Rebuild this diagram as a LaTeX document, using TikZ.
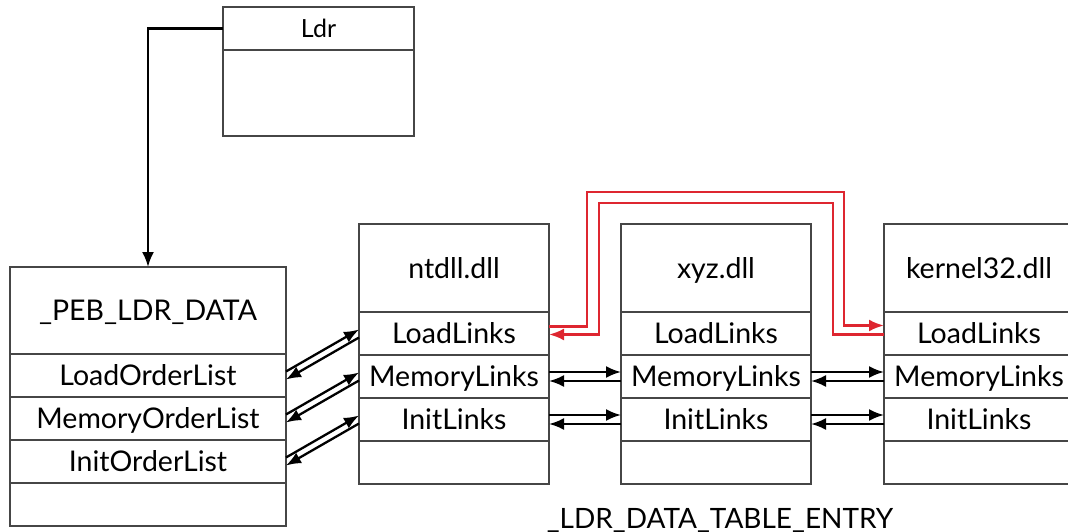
\documentclass[tikz,border=0pt]{standalone}
\usepackage{fontspec}
\setmainfont{Lato}
\usetikzlibrary{arrows.meta}
\usetikzlibrary{positioning}
\definecolor{linkred}{RGB}{222,38,48}
\definecolor{boxgray}{RGB}{70,70,70}

\begin{document}
\begin{tikzpicture}[x=1pt,y=1pt,
        cell/.style={draw=boxgray,line width=1.7pt,inner sep=0pt,outer sep=0pt,
            minimum width=190pt,minimum height=43pt,text height=20.4pt,text depth=0pt,
            font=\fontsize{28.5}{32}\selectfont},
        head/.style={cell,minimum height=88pt},
        pebcell/.style={cell,minimum width=276pt},
        link/.style={-{Latex[length=15pt,width=12pt]},line width=2.3pt},
        redlink/.style={link,linkred,line width=2.6pt}]
                \clip (0,0) rectangle (1068,531);

                \node[cell,minimum width=191pt,text height=18pt,font=\fontsize{25}{29}\selectfont] (ldrHead) at (318.5,502.5) {Ldr};
                \node[cell,minimum width=191pt,minimum height=86pt,below=0pt of ldrHead] (ldrBody) {};

                \node[pebcell,minimum height=87pt] (pebHead) at (148,220.5) {\_PEB\_LDR\_DATA};
                \node[pebcell,below=0pt of pebHead] (pebLoad) {LoadOrderList};
                \node[pebcell,below=0pt of pebLoad] (pebMem) {MemoryOrderList};
                \node[pebcell,below=0pt of pebMem] (pebInit) {InitOrderList};
                \node[pebcell,below=0pt of pebInit] (pebEnd) {};

                \node[head] (ntHead) at (454,263) {ntdll.dll};
                \node[cell,below=0pt of ntHead] (ntLoad) {LoadLinks};
                \node[cell,below=0pt of ntLoad] (ntMem) {MemoryLinks};
                \node[cell,below=0pt of ntMem] (ntInit) {InitLinks};
                \node[cell,below=0pt of ntInit] (ntEnd) {};

                \node[head] (xyzHead) at (716,263) {xyz.dll};
                \node[cell,below=0pt of xyzHead] (xyzLoad) {LoadLinks};
                \node[cell,below=0pt of xyzLoad] (xyzMem) {MemoryLinks};
                \node[cell,below=0pt of xyzMem] (xyzInit) {InitLinks};
                \node[cell,below=0pt of xyzInit] (xyzEnd) {};

                \node[head] (kHead) at (979,263) {kernel32.dll};
                \node[cell,below=0pt of kHead] (kLoad) {LoadLinks};
                \node[cell,below=0pt of kLoad] (kMem) {MemoryLinks};
                \node[cell,below=0pt of kMem] (kInit) {InitLinks};
                \node[cell,below=0pt of kInit] (kEnd) {};

                \node[anchor=base,font=\fontsize{28}{32}\selectfont] (entryName) at (720,2.5) {\_LDR\_DATA\_TABLE\_ENTRY};

                \draw[link] (ldrHead.west) -| (pebHead.north);

                \draw[link] ([yshift=4pt]pebLoad.east) -- ([yshift=4pt]ntLoad.west);
                \draw[link] ([yshift=-4pt]ntLoad.west) -- ([yshift=-4pt]pebLoad.east);
                \draw[link] ([yshift=4pt]pebMem.east) -- ([yshift=4pt]ntMem.west);
                \draw[link] ([yshift=-4pt]ntMem.west) -- ([yshift=-4pt]pebMem.east);
                \draw[link] ([yshift=4pt]pebInit.east) -- ([yshift=4pt]ntInit.west);
                \draw[link] ([yshift=-4pt]ntInit.west) -- ([yshift=-4pt]pebInit.east);

                \draw[link] ([yshift=4.5pt]ntMem.east) -- ([yshift=4.5pt]xyzMem.west);
                \draw[link] ([yshift=-4.5pt]xyzMem.west) -- ([yshift=-4.5pt]ntMem.east);
                \draw[link] ([yshift=4.5pt]ntInit.east) -- ([yshift=4.5pt]xyzInit.west);
                \draw[link] ([yshift=-4.5pt]xyzInit.west) -- ([yshift=-4.5pt]ntInit.east);

                \draw[link] ([yshift=4.5pt]xyzMem.east) -- ([yshift=4.5pt]kMem.west);
                \draw[link] ([yshift=-4.5pt]kMem.west) -- ([yshift=-4.5pt]xyzMem.east);
                \draw[link] ([yshift=4.5pt]xyzInit.east) -- ([yshift=4.5pt]kInit.west);
                \draw[link] ([yshift=-4.5pt]kInit.west) -- ([yshift=-4.5pt]xyzInit.east);

                % LoadLinks of ntdll and kernel32 run over xyz.dll
                \draw[redlink] ([yshift=7pt]ntLoad.east) -- ++(38,0) -- ++(0,134.5)
                    -| ([xshift=-40pt,yshift=8pt]kLoad.west) -- ([yshift=8pt]kLoad.west);
                \draw[redlink] ([yshift=-1pt]kLoad.west) -- ++(-51,0) -- ++(0,131.5)
                    -| ([xshift=50pt,yshift=-1pt]ntLoad.east) -- ([yshift=-1pt]ntLoad.east);
\end{tikzpicture}
\end{document}
